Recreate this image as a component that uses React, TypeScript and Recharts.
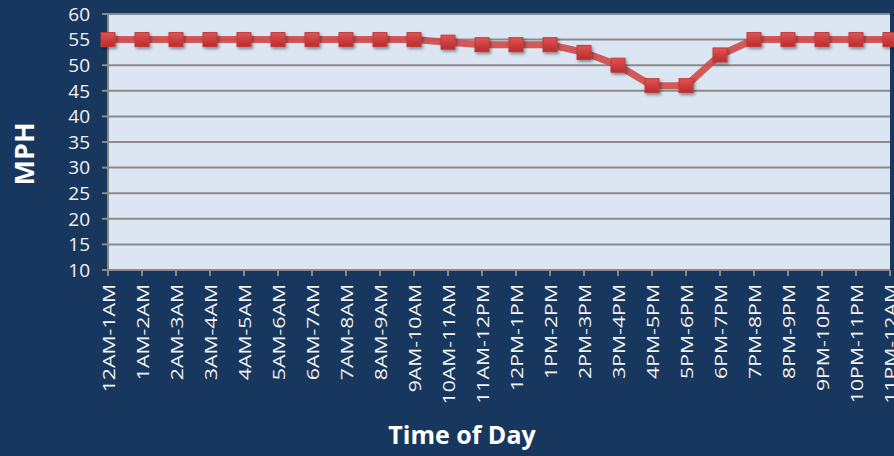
import { LineChart, Line, XAxis, YAxis, CartesianGrid, Label } from "recharts";

const timeSlots = [
  "12AM-1AM", "1AM-2AM", "2AM-3AM", "3AM-4AM", "4AM-5AM", "5AM-6AM",
  "6AM-7AM", "7AM-8AM", "8AM-9AM", "9AM-10AM", "10AM-11AM", "11AM-12PM",
  "12PM-1PM", "1PM-2PM", "2PM-3PM", "3PM-4PM", "4PM-5PM", "5PM-6PM",
  "6PM-7PM", "7PM-8PM", "8PM-9PM", "9PM-10PM", "10PM-11PM", "11PM-12AM",
];

const avgSpeed = [
  55, 55, 55, 55, 55, 55, 55, 55, 55, 55, 54.5, 54,
  54, 54, 52.5, 50, 46, 46, 52, 55, 55, 55, 55, 55,
];

const yTicks = [10, 15, 20, 25, 30, 35, 40, 45, 50, 55, 60];

const data = timeSlots.map((slot, i) => ({ slot, mph: avgSpeed[i] }));

const BG = "#17375e";
const FONT = "'Open Sans', sans-serif";

const XTick = ({ x, y, payload }: any) => (
  <text
    transform={`translate(${x},${y}) rotate(-90) scale(1.25,1)`}
    textAnchor="end"
    dominantBaseline="central"
    fill="#f2f2f2"
    fontSize={17}
    fontFamily={FONT}
  >
    {payload.value}
  </text>
);

const SquareDot = ({ cx, cy }: any) => {
  if (cx == null || cy == null) return null;
  return (
    <rect
      x={cx - 7}
      y={cy - 7}
      width={14}
      height={14}
      fill="url(#dotFill)"
      stroke="#c23a3a"
      strokeWidth={1}
      filter="url(#shadow)"
    />
  );
};

export default function App() {
  return (
    <div style={{ width: 894, height: 456, background: BG }}>
      <style>{`body{margin:0}`}</style>
      <LineChart
        width={894}
        height={456}
        data={data}
        margin={{ top: 14, right: 4, left: 0, bottom: 0 }}
      >
        <defs>
          <linearGradient id="dotFill" x1="0" y1="0" x2="0" y2="1">
            <stop offset="0%" stopColor="#e65252" />
            <stop offset="100%" stopColor="#b52e2e" />
          </linearGradient>
          <filter id="shadow" x="-50%" y="-50%" width="200%" height="200%">
            <feDropShadow dx="1.5" dy="2" stdDeviation="1.5" floodColor="#000" floodOpacity="0.4" />
          </filter>
        </defs>
        <CartesianGrid
          vertical={false}
          fill="#dce6f2"
          stroke="#8a8a8a"
          strokeWidth={2}
        />
        <XAxis
          dataKey="slot"
          height={186}
          interval={0}
          tick={<XTick />}
          tickSize={6}
          tickMargin={8}
          axisLine={{ stroke: "#8a8a8a", strokeWidth: 2 }}
          tickLine={{ stroke: "#8a8a8a", strokeWidth: 2 }}
        >
          <Label
            content={({ viewBox }: any) => (
              <text
                x={viewBox.x + viewBox.width / 2 - 37}
                y={viewBox.y + viewBox.height - 12}
                textAnchor="middle"
                fill="#ffffff"
                fontSize={25}
                fontWeight="bold"
                fontFamily={FONT}
              >
                Time of Day
              </text>
            )}
          />
        </XAxis>
        <YAxis
          width={108}
          domain={[10, 60]}
          ticks={yTicks}
          interval={0}
          tickSize={6}
          tickMargin={12}
          tick={{ fill: "#f2f2f2", fontSize: 19, fontFamily: FONT }}
          axisLine={{ stroke: "#8a8a8a", strokeWidth: 2 }}
          tickLine={{ stroke: "#8a8a8a", strokeWidth: 2 }}
        >
          <Label
            content={({ viewBox }: any) => {
              const cx = viewBox.x + 23;
              const cy = viewBox.y + viewBox.height / 2 + 12;
              return (
                <text
                  x={cx}
                  y={cy}
                  transform={`rotate(-90, ${cx}, ${cy})`}
                  textAnchor="middle"
                  dominantBaseline="central"
                  fill="#ffffff"
                  fontSize={27}
                  fontWeight="bold"
                  fontFamily={FONT}
                >
                  MPH
                </text>
              );
            }}
          />
        </YAxis>
        <Line
          type="linear"
          dataKey="mph"
          stroke="#d04848"
          strokeOpacity={0.9}
          strokeWidth={7}
          dot={<SquareDot />}
          activeDot={false}
          isAnimationActive={false}
        />
      </LineChart>
    </div>
  );
}
